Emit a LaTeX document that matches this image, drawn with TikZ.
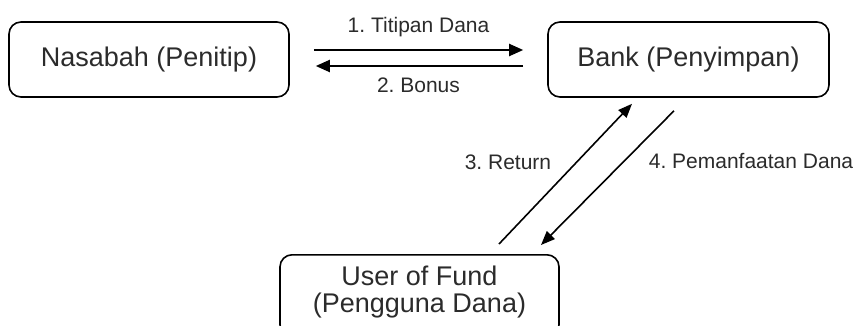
\documentclass[tikz,border=0pt]{standalone}
\usepackage{fontspec}
\setmainfont{Liberation Sans}
\frenchspacing
\usetikzlibrary{arrows.meta}
\definecolor{txt}{HTML}{2B2B2B}
\begin{document}
\begin{tikzpicture}[x=1pt,y=-1pt,
  boxnode/.style={draw=black,line width=1.6pt,rounded corners=12pt,text=txt,
    font=\fontsize{27}{27}\selectfont,align=center,inner sep=0pt},
  lbl/.style={text=txt,font=\fontsize{21}{21}\selectfont,inner sep=0pt,anchor=base},
  conn/.style={line width=2pt,-{Triangle[length=14pt,width=12pt]}},
  dconn/.style={line width=1.6pt,-{Triangle[length=14pt,width=11pt]}}]
\useasboundingbox (0,0) rectangle (855,325);
\clip (0,0) rectangle (855,325);
\node[boxnode,minimum width=280pt,minimum height=75pt] (nas) at (149,59.5) {Nasabah (Penitip)};
\node[boxnode,minimum width=281pt,minimum height=75pt] (bank) at (688.5,59.5) {Bank (Penyimpan)};
\node[boxnode,minimum width=279pt,minimum height=82pt,text depth=12.7pt,anchor=north] (user) at (419.5,254) {User of Fund\\(Pengguna Dana)};
\draw[conn] ([shift={(24,-9.5)}]nas.east) -- ([shift={(-24,-9.5)}]bank.west);
\draw[conn] ([shift={(-24,6.5)}]bank.west) -- ([shift={(26,6.5)}]nas.east);
\draw[dconn] ([shift={(79.5,-10)}]user.north) -- ([shift={(-56.5,6)}]bank.south);
\draw[dconn] ([shift={(-14.5,13)}]bank.south) -- ([shift={(121.5,-9)}]user.north);
\node[lbl] (l1) at (418.5,32) {1. Titipan Dana};
\node[lbl] (l2) at (418.5,92) {2. Bonus};
\node[lbl] (l3) at (508,169) {3. Return};
\node[lbl] (l4) at (751,168) {4. Pemanfaatan Dana};
\end{tikzpicture}
\end{document}
